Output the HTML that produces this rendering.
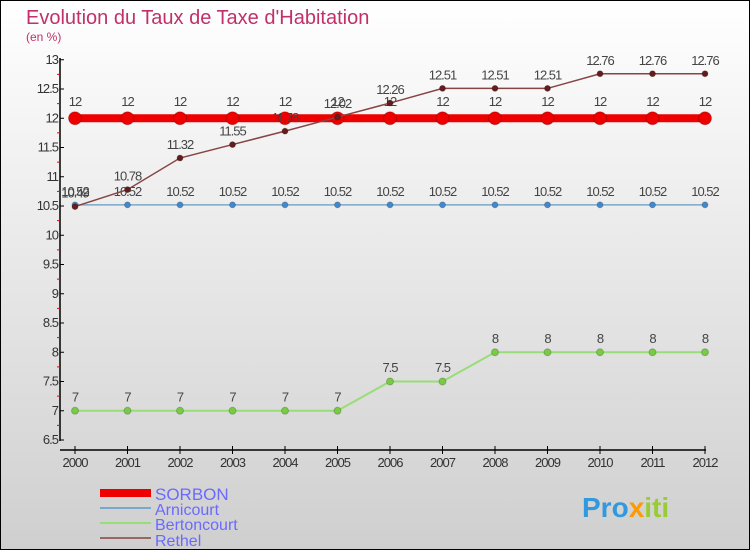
<!DOCTYPE html>
<html><head><meta charset="utf-8"><style>
body{margin:0}
svg{display:block;font-family:"Liberation Sans",sans-serif}
</style></head><body>
<svg id="c" width="750" height="550" xmlns="http://www.w3.org/2000/svg">
<defs><linearGradient id="bg" x1="0" y1="0" x2="0" y2="1"><stop offset="0" stop-color="#ffffff"/><stop offset="1" stop-color="#cfcfcf"/></linearGradient></defs>
<rect x="0.5" y="0.5" width="749" height="549" fill="url(#bg)" stroke="#000"/>
<text x="26" y="24" font-size="20" fill="#c0306a">Evolution du Taux de Taxe d'Habitation</text>
<text x="26" y="41" font-size="12" fill="#c0306a">(en %)</text>
<g id="axes"></g><g id="series"></g>
<g>
<rect x="100" y="489" width="51" height="8" fill="#e00"/>
<text x="155" y="500" font-size="17" fill="#6a6aff">SORBON</text>
<line x1="100" y1="508" x2="151" y2="508" stroke="#7aa8cc" stroke-width="2"/>
<text x="155" y="515" font-size="16" fill="#6a6aff">Arnicourt</text>
<line x1="100" y1="523" x2="151" y2="523" stroke="#99dd77" stroke-width="2"/>
<text x="155" y="530" font-size="16" fill="#6a6aff">Bertoncourt</text>
<line x1="100" y1="538" x2="151" y2="538" stroke="#996666" stroke-width="2"/>
<text x="155" y="546" font-size="16" fill="#6a6aff">Rethel</text>
</g>
<text x="582" y="517" font-size="28" font-weight="bold" fill="#3399dd">Pro<tspan fill="#ff9900">x</tspan><tspan fill="#99cc33">iti</tspan></text>
</svg>
<script>
const years=[2000,2001,2002,2003,2004,2005,2006,2007,2008,2009,2010,2011,2012];
const sorbon=[12,12,12,12,12,12,12,12,12,12,12,12,12];
const arnicourt=[10.52,10.52,10.52,10.52,10.52,10.52,10.52,10.52,10.52,10.52,10.52,10.52,10.52];
const bertoncourt=[7,7,7,7,7,7,7.5,7.5,8,8,8,8,8];
const rethel=[10.49,10.78,11.32,11.55,11.78,12.02,12.26,12.51,12.51,12.51,12.76,12.76,12.76];
const yTicks=[6.5,7,7.5,8,8.5,9,9.5,10,10.5,11,11.5,12,12.5,13];
const NS="http://www.w3.org/2000/svg";
const X=i=>75+i*52.5, Y=v=>440-(v-6.5)*58.5;
function mk(p,t,a){const e=document.createElementNS(NS,t);for(const k in a)e.setAttribute(k,a[k]);p.appendChild(e);return e;}
const ax=document.getElementById('axes'), sg=document.getElementById('series');
let yl=mk(ax,'line',{x1:60,y1:58,x2:60,y2:441,stroke:'#000','stroke-width':1.5});


let xl=mk(ax,'line',{x1:60,y1:450,x2:706,y2:450,stroke:'#000','stroke-width':1.5});


yTicks.forEach((v,i)=>{
  mk(ax,'line',{x1:60,y1:Y(v),x2:64,y2:Y(v),stroke:'#000'});
  if(i<yTicks.length-1) mk(ax,'line',{x1:57,y1:Y(v+0.25),x2:60,y2:Y(v+0.25),stroke:'#e00'});
  const t=mk(ax,'text',{x:58,y:Y(v)+4,'font-size':13,'text-anchor':'end',fill:'#333','letter-spacing':-1});
  t.textContent=String(v);
  
  
});
years.forEach((y,i)=>{
  mk(ax,'line',{x1:X(i),y1:446,x2:X(i),y2:454,stroke:'#000'});
  const t=mk(ax,'text',{x:X(i),y:467,'font-size':13,'text-anchor':'middle',fill:'#333','letter-spacing':-1});
  t.textContent=y;
  
  
});
function series(name,vals,col,w,r,dot){
  const g=mk(sg,'g',{});
  
  
  mk(g,'polyline',{points:vals.map((v,i)=>X(i)+','+Y(v)).join(' '),fill:'none',stroke:col,'stroke-width':w});
  vals.forEach((v,i)=>{
    const c=mk(g,'circle',{cx:X(i),cy:Y(v),r:r,fill:dot,stroke:'#0003'});
    
    
    const t=mk(g,'text',{x:X(i),y:Y(v)-(r+6),'font-size':13,'text-anchor':'middle',fill:'#444','letter-spacing':-1});
    t.textContent=String(v);
    
    
  });
}
series('bertoncourt',bertoncourt,'#99dd77',2,3.5,'#77cc44');
series('arnicourt',arnicourt,'#7aa8cc',1.5,3,'#4488cc');
series('sorbon',sorbon,'#e00',8,6.5,'#e00');
series('rethel',rethel,'#884444',1.5,3,'#661c1c');
</script>
</body></html>
